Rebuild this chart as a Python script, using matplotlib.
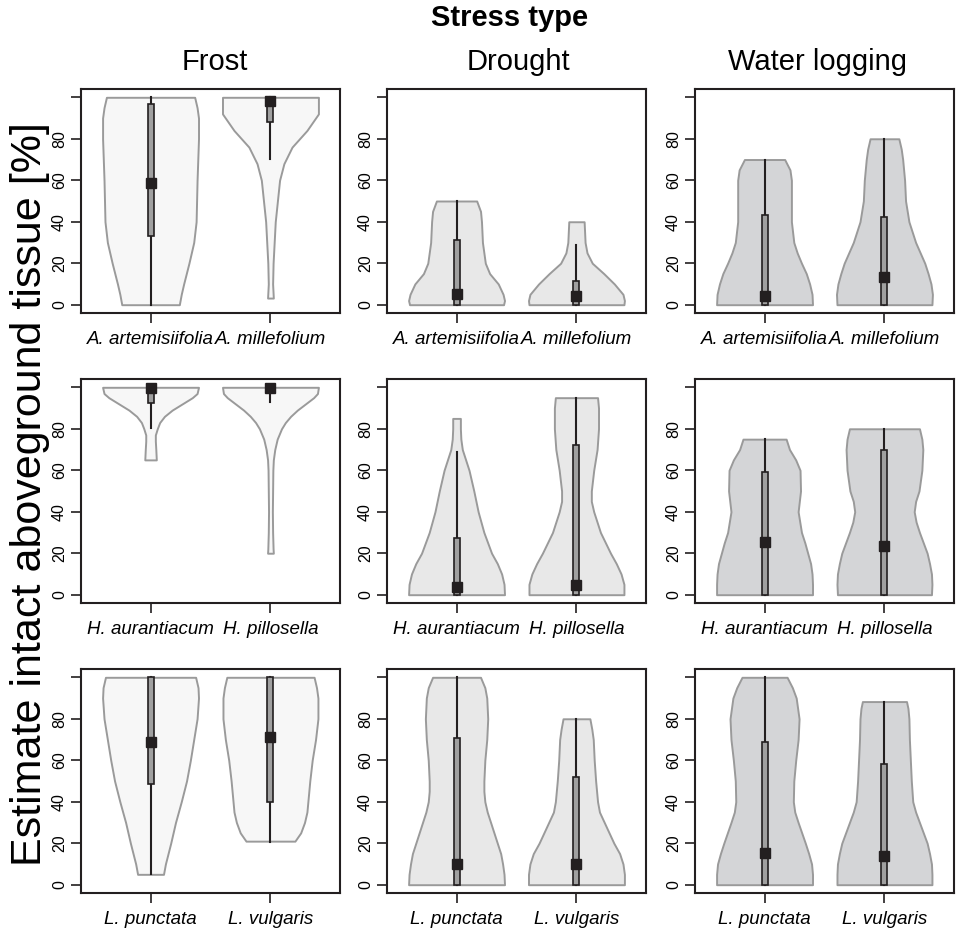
import matplotlib
matplotlib.use("Agg")
import matplotlib.pyplot as plt
from matplotlib.patches import Rectangle

plt.rcParams['font.family'] = ['Liberation Sans', 'DejaVu Sans']

stress = ["Frost", "Drought", "Water logging"]
species = [["A. artemisiifolia", "A. millefolium"],
           ["H. aurantiacum", "H. pillosella"],
           ["L. punctata", "L. vulgaris"]]
fills = ["#f7f7f7", "#e8e8e8", "#d4d5d7"]

# violin outlines: y level and relative half width
# box stats: [whisker low, q1, median, q3, whisker high]
frost_art_y = [0, 5, 10, 20, 30, 40, 60, 80, 90, 95, 100]
frost_art_w = [0.60, 0.64, 0.69, 0.80, 0.90, 0.95, 0.97, 1.0, 1.0, 0.97, 0.92]
frost_art_box = [0, 32.9, 58.9, 96.8, 100]
frost_mil_y = [3.2, 10, 20, 40, 60, 68, 76, 84, 92, 96, 100]
frost_mil_w = [0.06, 0.045, 0.055, 0.10, 0.19, 0.28, 0.45, 0.76, 1.0, 1.0, 1.0]
frost_mil_box = [70.3, 88, 98.4, 100, 100]

drought_art_y = [0, 2, 5, 10, 15, 20, 25, 30, 40, 45, 50]
drought_art_w = [0.98, 1.0, 0.97, 0.87, 0.69, 0.60, 0.57, 0.54, 0.52, 0.50, 0.42]
drought_art_box = [0, 0, 5, 31.3, 50]
drought_mil_y = [0, 2, 5, 10, 15, 20, 25, 30, 35, 40]
drought_mil_w = [0.99, 1.0, 0.97, 0.79, 0.57, 0.33, 0.22, 0.18, 0.17, 0.16]
drought_mil_box = [0, 0, 4.3, 11.6, 28.9]

water_art_y = [0, 5, 10, 15, 20, 25, 30, 40, 50, 60, 65, 70]
water_art_w = [1.0, 0.99, 0.94, 0.87, 0.77, 0.68, 0.61, 0.56, 0.56, 0.56, 0.53, 0.42]
water_art_box = [0, 0, 4.3, 43.3, 70]
water_mil_y = [0, 5, 10, 15, 20, 30, 40, 50, 60, 70, 75, 80]
water_mil_w = [0.99, 1.0, 0.97, 0.91, 0.84, 0.65, 0.51, 0.44, 0.42, 0.38, 0.35, 0.30]
water_mil_box = [0, 0, 13.3, 42.5, 80]

frost_aur_y = [65, 70, 74, 77, 80, 83, 86, 89, 92, 95, 97, 100]
frost_aur_w = [0.12, 0.11, 0.10, 0.10, 0.14, 0.19, 0.29, 0.45, 0.66, 0.87, 0.97, 1.0]
frost_aur_box = [80.6, 92.3, 99.5, 100, 100]
frost_pil_y = [20, 22, 30, 40, 50, 60, 65, 70, 75, 80, 83, 86, 89, 92, 95, 97, 100]
frost_pil_w = [0.06, 0.055, 0.045, 0.04, 0.045, 0.05, 0.06, 0.09, 0.14, 0.23,
               0.31, 0.42, 0.56, 0.73, 0.90, 0.98, 1.0]
frost_pil_box = [93.1, 97.4, 99.5, 100, 100]

drought_aur_y = [0, 5, 10, 15, 20, 30, 40, 50, 60, 65, 70, 75, 80, 85]
drought_aur_w = [1.0, 0.99, 0.94, 0.85, 0.73, 0.57, 0.45, 0.36, 0.26, 0.19, 0.12, 0.09, 0.08, 0.08]
drought_aur_box = [0, 0, 3.5, 27.3, 69]
drought_pil_y = [0, 5, 10, 15, 20, 30, 40, 45, 50, 60, 70, 80, 90, 95]
drought_pil_w = [0.99, 0.99, 0.93, 0.83, 0.71, 0.50, 0.36, 0.31, 0.31, 0.36, 0.43, 0.46, 0.46, 0.44]
drought_pil_box = [0, 0, 4.5, 72.2, 95]

water_aur_y = [0, 5, 10, 15, 20, 25, 30, 40, 50, 60, 65, 70, 75]
water_aur_w = [1.0, 1.0, 0.99, 0.96, 0.90, 0.84, 0.77, 0.70, 0.75, 0.74, 0.65, 0.52, 0.45]
water_aur_box = [0, 0, 25.2, 59.4, 75]
water_pil_y = [0, 5, 10, 15, 20, 30, 35, 40, 45, 50, 60, 70, 75, 80]
water_pil_w = [0.98, 0.99, 0.98, 0.94, 0.89, 0.73, 0.66, 0.62, 0.65, 0.72, 0.78, 0.80, 0.78, 0.73]
water_pil_box = [0, 0, 23.3, 69.8, 80]

frost_pun_y = [5, 10, 20, 30, 40, 50, 60, 70, 80, 90, 95, 100]
frost_pun_w = [0.27, 0.31, 0.42, 0.52, 0.64, 0.75, 0.83, 0.90, 0.97, 1.0, 0.99, 0.94]
frost_pun_box = [5, 48.5, 69, 100, 100]
frost_vul_y = [21, 25, 30, 35, 40, 50, 60, 70, 80, 90, 95, 100]
frost_vul_w = [0.51, 0.63, 0.71, 0.76, 0.78, 0.82, 0.87, 0.94, 0.99, 0.99, 0.96, 0.91]
frost_vul_box = [20.8, 39.8, 71, 100, 100]

drought_pun_y = [0, 5, 10, 15, 20, 30, 35, 40, 45, 50, 60, 70, 80, 90, 95, 100]
drought_pun_w = [1.0, 0.99, 0.96, 0.92, 0.85, 0.71, 0.64, 0.59, 0.57, 0.57, 0.59, 0.63,
                 0.65, 0.63, 0.59, 0.50]
drought_pun_box = [0, 0, 10.1, 70.5, 100]
drought_vul_y = [0, 5, 10, 15, 20, 30, 35, 40, 50, 60, 70, 75, 80]
drought_vul_w = [1.0, 1.0, 0.97, 0.90, 0.78, 0.58, 0.48, 0.44, 0.40, 0.37, 0.35, 0.32, 0.28]
drought_vul_box = [0, 0, 10.1, 51.8, 80]

water_pun_y = [0, 5, 10, 15, 20, 30, 35, 40, 50, 60, 70, 80, 90, 95, 100]
water_pun_w = [1.0, 1.0, 0.98, 0.92, 0.85, 0.70, 0.63, 0.60, 0.61, 0.65, 0.70, 0.72,
               0.66, 0.58, 0.47]
water_pun_box = [0, 0, 15.2, 68.9, 100]
water_vul_y = [0, 5, 10, 15, 20, 30, 35, 40, 50, 60, 70, 80, 85, 88.3]
water_vul_w = [0.99, 0.99, 0.98, 0.94, 0.89, 0.73, 0.65, 0.59, 0.56, 0.54, 0.52, 0.51, 0.49, 0.46]
water_vul_box = [0, 0, 13.6, 58.3, 88.3]

panels = [
    [[(frost_art_y, frost_art_w, frost_art_box), (frost_mil_y, frost_mil_w, frost_mil_box)],
     [(drought_art_y, drought_art_w, drought_art_box), (drought_mil_y, drought_mil_w, drought_mil_box)],
     [(water_art_y, water_art_w, water_art_box), (water_mil_y, water_mil_w, water_mil_box)]],
    [[(frost_aur_y, frost_aur_w, frost_aur_box), (frost_pil_y, frost_pil_w, frost_pil_box)],
     [(drought_aur_y, drought_aur_w, drought_aur_box), (drought_pil_y, drought_pil_w, drought_pil_box)],
     [(water_aur_y, water_aur_w, water_aur_box), (water_pil_y, water_pil_w, water_pil_box)]],
    [[(frost_pun_y, frost_pun_w, frost_pun_box), (frost_vul_y, frost_vul_w, frost_vul_box)],
     [(drought_pun_y, drought_pun_w, drought_pun_box), (drought_vul_y, drought_vul_w, drought_vul_box)],
     [(water_pun_y, water_pun_w, water_pun_box), (water_vul_y, water_vul_w, water_vul_box)]],
]

W, H = 958, 931
fig = plt.figure(figsize=(W / 100, H / 100), dpi=100)

lefts = [81, 387, 695]
tops = [89, 379, 669]
pw, ph = 259, 224
dark = "#231f20"

for r in range(3):
    for c in range(3):
        ax = fig.add_axes([lefts[c] / W, 1 - (tops[r] + ph) / H, pw / W, ph / H])
        for i, (yy, ww, box) in enumerate(panels[r][c]):
            pos = i + 1
            half = [0.4 * v for v in ww]
            ax.fill_betweenx(yy, [pos - h for h in half], [pos + h for h in half],
                             facecolor=fills[c], edgecolor="#9a9a9a", lw=1.4, zorder=1)
            lo, q1, med, q3, hi = box
            ax.plot([pos, pos], [lo, hi], color=dark, lw=1.5, zorder=2)
            ax.add_patch(Rectangle((pos - 0.025, q1), 0.05, q3 - q1, facecolor="#a0a0a0",
                                   edgecolor=dark, lw=1.2, zorder=3))
            ax.plot([pos], [med], marker="s", ms=7.5, color=dark, zorder=4)
        ax.set_xlim(0.42, 2.58)
        ax.set_ylim(-4, 104)
        ax.set_yticks([0, 20, 40, 60, 80, 100])
        ax.set_yticklabels(["0", "20", "40", "60", "80", ""], rotation=90, va="center",
                           fontsize=11.5)
        ax.set_xticks([1, 2])
        ax.set_xticklabels(species[r], fontsize=13.5, style="italic")
        ax.tick_params(axis="both", direction="out", length=7, width=1.2, color=dark)
        ax.tick_params(axis="y", pad=3)
        ax.tick_params(axis="x", pad=6)
        for s in ax.spines.values():
            s.set_linewidth(1.5)
            s.set_color(dark)

title_x = [215, 518, 817]
for c in range(3):
    fig.text(title_x[c] / W, 1 - 62 / H, stress[c], fontsize=21, ha="center", va="center")
fig.text(510 / W, 1 - 18 / H, "Stress type", fontsize=21, fontweight="bold",
         ha="center", va="center")
fig.text(30 / W, 1 - 494 / H, "Estimate intact aboveground tissue [%]", fontsize=31,
         rotation=90, ha="center", va="center")

fig.savefig("out.png", dpi=100)
